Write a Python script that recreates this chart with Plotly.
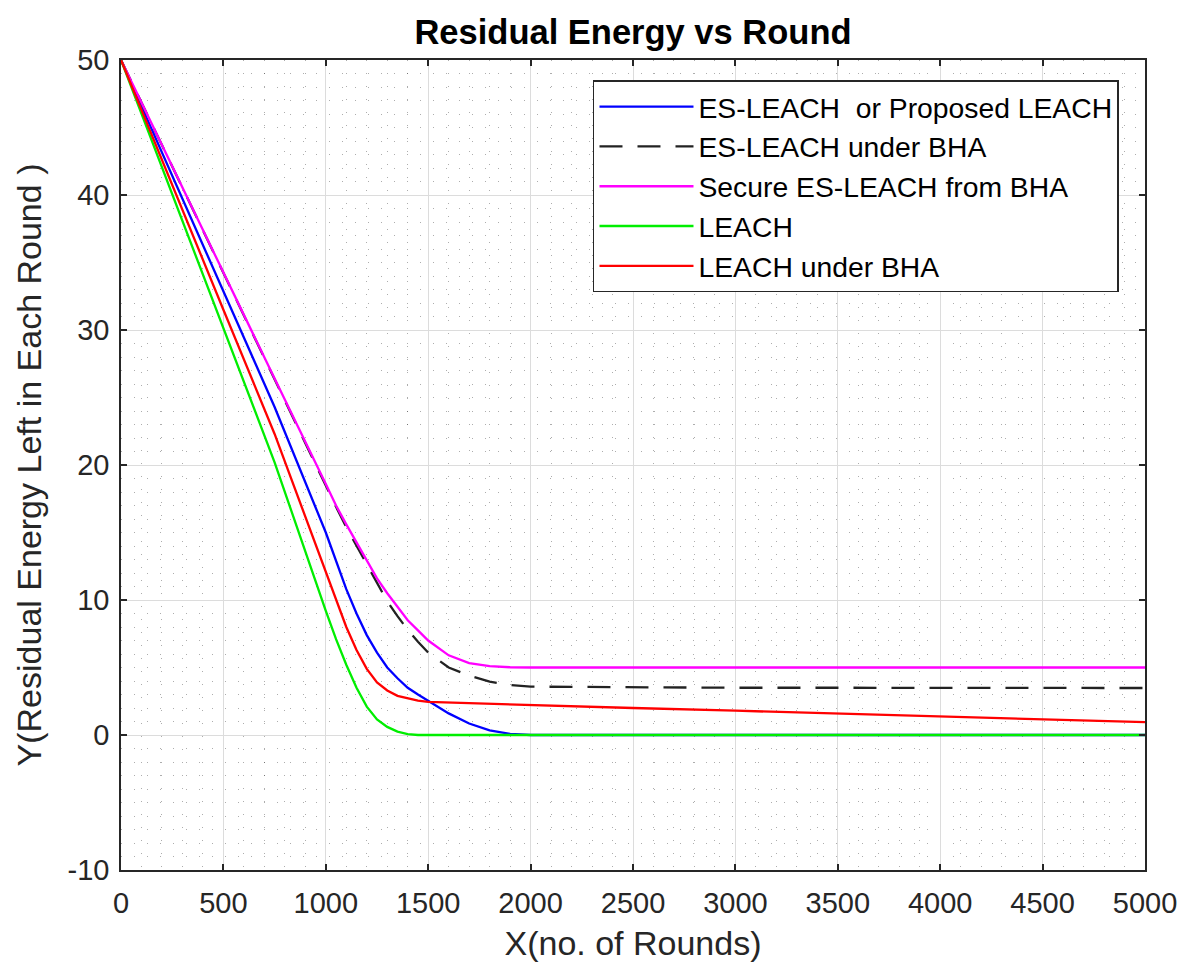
import plotly.graph_objects as go

# Round numbers at which the residual energy was sampled
rounds = [0, 250, 500, 750, 1000, 1050, 1100, 1150, 1200, 1250, 1300, 1350,
          1400, 1450, 1500, 1600, 1700, 1800, 1900, 2000, 2500, 3000, 3500,
          4000, 4500, 5000]

# Residual energy per protocol (J)
es_leach = [50, 41.4, 32.9, 24.3, 15.0, 12.9, 10.8, 9.0, 7.4, 6.1, 5.0, 4.2,
            3.5, 3.0, 2.55, 1.6, 0.85, 0.35, 0.08, 0, 0, 0, 0, 0, 0, 0]
es_leach_bha = [50, 42.1, 34.2, 26.4, 18.5, 16.9, 15.4, 14.0, 12.6, 11.2, 9.9,
                8.8, 7.8, 6.9, 6.1, 5.0, 4.4, 3.95, 3.7, 3.58, 3.52, 3.5, 3.5,
                3.49, 3.48, 3.48]
secure_es_leach = [50, 42.1, 34.2, 26.4, 18.6, 17.0, 15.6, 14.25, 12.9, 11.6,
                   10.5, 9.5, 8.5, 7.75, 7.0, 5.9, 5.33, 5.1, 5.02, 5.0, 5.0,
                   5.0, 5.0, 5.0, 5.0, 5.0]
leach = [50, 40.1, 30.2, 20.2, 9.2, 7.1, 5.2, 3.5, 2.1, 1.15, 0.6, 0.25, 0.07,
         0, 0, 0, 0, 0, 0, 0, 0, 0, 0, 0, 0, 0]
leach_bha = [50, 40.7, 31.5, 22.3, 12.0, 9.9, 8.0, 6.3, 4.9, 3.9, 3.3, 2.9, 2.7,
             2.55, 2.45, 2.4, 2.36, 2.31, 2.27, 2.22, 2.0, 1.8, 1.58, 1.37,
             1.16, 0.95]

# Axis ticks
x_ticks = [0, 500, 1000, 1500, 2000, 2500, 3000, 3500, 4000, 4500, 5000]
y_ticks = [-10, 0, 10, 20, 30, 40, 50]
y_tick_labels = ["-10", "0", "10", "20", "30", "40", "50"]

series = [
    ("ES-LEACH \u00a0or Proposed LEACH", es_leach, "#0000ff", "solid"),
    ("ES-LEACH under BHA", es_leach_bha, "#222222", "23px,15px"),
    ("Secure ES-LEACH from BHA", secure_es_leach, "#ff00ff", "solid"),
    ("LEACH", leach, "#00ee00", "solid"),
    ("LEACH under BHA", leach_bha, "#ff0000", "solid"),
]

fig = go.Figure()
for name, values, color, dash in series:
    fig.add_trace(go.Scatter(
        x=rounds, y=values, mode="lines", name=name,
        line=dict(color=color, width=2.3, dash=dash),
    ))

axis_color = "#262626"
font_family = "Liberation Sans, Arial, sans-serif"

common_axis = dict(
    showline=True, linecolor=axis_color, linewidth=1.6, mirror="ticks",
    ticks="inside", ticklen=6, tickwidth=1.5, tickcolor=axis_color,
    showgrid=True, gridcolor="#dcdcdc", gridwidth=1,
    zeroline=False, automargin=False,
    tickfont=dict(family=font_family, size=29, color=axis_color),
    title_font=dict(family=font_family, size=34, color=axis_color),
)

fig.update_xaxes(
    range=[0, 5000], tickmode="array", tickvals=x_ticks,
    ticktext=[str(v) for v in x_ticks], ticklabelstandoff=6,
    title_text="X(no. of Rounds)", title_standoff=14,
    minor=dict(dtick=100, showgrid=True, gridcolor="rgba(0,0,0,0.32)",
               griddash="1px,12px", gridwidth=1, ticks=""),
    **common_axis,
)
fig.update_yaxes(
    range=[-10, 50], tickmode="array", tickvals=y_ticks,
    ticktext=y_tick_labels, ticklabelstandoff=4,
    title_text="Y(Residual Energy Left in Each Round )", title_standoff=16,
    minor=dict(dtick=1, showgrid=True, gridcolor="rgba(0,0,0,0.32)",
               griddash="1px,12px", gridwidth=1, ticks=""),
    **common_axis,
)

fig.update_layout(
    width=1182, height=969,
    margin=dict(l=121, r=37, t=60, b=99),
    paper_bgcolor="white", plot_bgcolor="white",
    title=dict(text="<b>Residual Energy vs Round</b>", x=0.5, xref="paper",
               y=0.967, yref="container", yanchor="middle",
               font=dict(family=font_family, size=34.5, color="black")),
    legend=dict(
        x=0.9746, y=0.975, xanchor="right", yanchor="top",
        bgcolor="white", bordercolor=axis_color, borderwidth=1.5,
        font=dict(family=font_family, size=28.3, color="black"),
        itemwidth=94,
    ),
    showlegend=True,
)

fig.write_html("out.html")
